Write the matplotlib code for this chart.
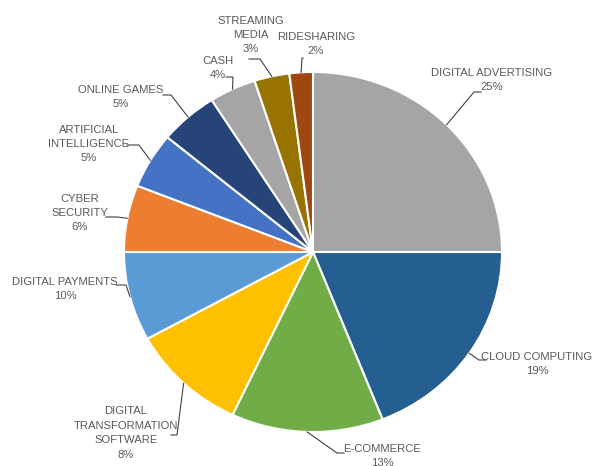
import numpy as np
import matplotlib
matplotlib.use('Agg')
import matplotlib.pyplot as plt

categories = ['DIGITAL ADVERTISING', 'CLOUD COMPUTING', 'E-COMMERCE',
              'DIGITAL\nTRANSFORMATION\nSOFTWARE', 'DIGITAL PAYMENTS',
              'CYBER\nSECURITY', 'ARTIFICIAL\nINTELLIGENCE', 'ONLINE GAMES',
              'CASH', 'STREAMING\nMEDIA', 'RIDESHARING']
shares = [25, 19, 13, 10, 8, 6, 5, 5, 4, 3, 2]
pct_labels = ['25%', '19%', '13%', '8%', '10%', '6%', '5%', '5%', '4%', '3%', '2%']
colors = ['#A5A5A5', '#255E91', '#70AD47', '#FFC000', '#5B9BD5', '#ED7D31',
          '#4472C4', '#264478', '#A5A5A5', '#997300', '#9E480E']

# label layout in pixels: text centre, leader start, leader elbow
text_pos = [(492, 80), (537, 364), (382, 456), (126, 433), (65, 289), (80, 213),
            (89, 144), (121, 97), (218, 68), (251, 35), (316, 44)]
lead_start = [(481, 92), (486, 360), (344, 453), (171, 435), (116, 285), (106, 217),
              (127, 145), (163, 95), (226, 77), (249, 59), (303, 58)]
lead_elbow = [(474, 92), (479, 360), (337, 453), (177, 435), (126, 285), (117, 217),
              (139, 145), (171, 95), (233, 77), (260, 59), (302, 58)]

W, H = 593, 466
CX, CY, RX, RY = 313, 252, 189, 180


def to_data(px, py):
    return (px - CX) / RX, (CY - py) / RY


fig = plt.figure(figsize=(W / 100, H / 100), dpi=100)
ax = fig.add_axes([0, 0, 1, 1])
wedges, _ = ax.pie(shares, colors=colors, startangle=90, counterclock=False,
                   wedgeprops=dict(edgecolor='white', linewidth=1.5))
ax.set_aspect('auto')
ax.set_xlim(-CX / RX, (W - CX) / RX)
ax.set_ylim(-(H - CY) / RY, CY / RY)
ax.axis('off')

for i, w in enumerate(wedges):
    mid = np.deg2rad((w.theta1 + w.theta2) / 2)
    edge = (np.cos(mid), np.sin(mid))
    p0 = to_data(*lead_start[i])
    p1 = to_data(*lead_elbow[i])
    ax.plot([p0[0], p1[0], edge[0]], [p0[1], p1[1], edge[1]],
            color='#404040', lw=0.8, solid_joinstyle='miter')
    ax.text(*to_data(*text_pos[i]), categories[i] + '\n' + pct_labels[i],
            ha='center', va='center', fontsize=8.1, color='#595959',
            linespacing=1.55, family=['Liberation Sans Narrow', 'Liberation Sans'])

fig.savefig('out.png', dpi=100)
